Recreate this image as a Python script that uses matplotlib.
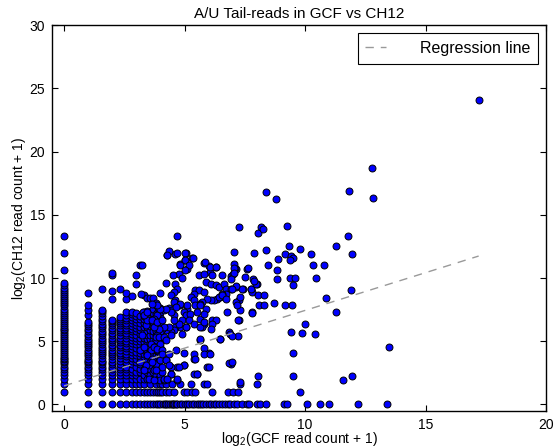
import numpy as np
import matplotlib.pyplot as plt

plt.rcParams['font.family'] = ['Liberation Sans', 'DejaVu Sans']
plt.rcParams['mathtext.default'] = 'regular'

# raw read counts for the low-count columns (GCF count -> list of CH12 counts)
gcf0_ch12 = [1, 2, 3, 4, 5, 6, 7, 8, 9, 10, 11, 12, 13, 15, 17, 19, 21, 24, 27, 30,
             33, 37, 41, 46, 51, 57, 63, 70, 78, 87, 97, 108, 120, 135, 150, 170, 190,
             215, 240, 270, 300, 340, 380, 430, 480, 540, 600, 680, 770, 1550, 4100, 10300]

low_gcf = [1, 2, 3, 4, 5, 6, 7, 8, 9, 10, 11, 12, 13, 14, 15]
low_ch12 = [
    [0, 1, 2, 3, 4, 5, 6, 7, 8, 9, 10, 11, 13, 15, 17, 19, 22, 25, 28, 32, 36, 41, 47, 54, 62, 71, 80, 90, 135, 180, 228, 445],
    [0, 1, 2, 3, 4, 5, 6, 7, 8, 9, 10, 12, 14, 16, 18, 20, 23, 26, 30, 34, 38, 43, 49, 56, 64, 72, 82, 95, 110, 130, 150, 170, 180, 550],
    [0, 1, 2, 3, 4, 5, 6, 7, 8, 9, 11, 13, 15, 17, 19, 22, 25, 29, 33, 38, 44, 50, 57, 65, 75, 85, 95, 103, 315, 511, 1180, 1350],
    [0, 1, 2, 3, 4, 5, 6, 7, 8, 10, 12, 14, 16, 19, 22, 25, 29, 33, 38, 44, 51, 58, 66, 75, 85, 95, 110, 120, 548],
    [0, 1, 2, 3, 4, 5, 6, 7, 9, 11, 13, 15, 18, 21, 24, 28, 32, 37, 43, 50, 58, 66, 76, 88, 100, 115, 135, 155, 320, 445],
    [0, 1, 2, 3, 4, 5, 6, 8, 10, 12, 14, 17, 20, 24, 28, 33, 39, 46, 54, 63, 73, 85, 100, 120, 140, 160, 390],
    [0, 1, 2, 3, 4, 5, 7, 9, 11, 14, 17, 21, 26, 31, 37, 45, 54, 65, 78, 93, 110, 130, 150, 750, 1180],
    [0, 1, 2, 3, 5, 6, 8, 10, 13, 16, 20, 25, 31, 38, 47, 58, 70, 85, 105, 125, 2050],
    [0, 1, 2, 3, 4, 6, 9, 12, 15, 19, 24, 30, 37, 46, 57, 70, 86, 105, 130, 160, 410],
    [0, 1, 3, 5, 7, 10, 14, 18, 23, 29, 36, 45, 56, 70, 88, 110, 140, 170, 340],
    [0, 1, 2, 4, 6, 9, 13, 17, 22, 28, 35, 45, 57, 72, 90, 115, 340],
    [0, 1, 3, 5, 8, 11, 15, 20, 26, 34, 44, 56, 72, 92, 120, 150, 190, 350],
    [0, 1, 2, 4, 7, 10, 14, 19, 25, 33, 43, 55, 70, 90, 115, 145, 260],
    [0, 1, 3, 6, 9, 13, 18, 24, 32, 42, 55, 72, 95, 125, 165, 210],
    [0, 1, 2, 4, 7, 11, 16, 22, 30, 40, 53, 70, 92, 120, 160, 200, 450],
]

# GCF positions (log2 scale) of genes with CH12 count 0, 1 and 2
zero_row_x = [4.09, 4.17, 4.25, 4.32, 4.39, 4.46, 4.52, 4.58, 4.64, 4.70, 4.81, 4.91, 5.00,
              5.09, 5.20, 5.29, 5.39, 5.50, 5.61, 5.70, 5.78, 5.88, 6.00, 6.11, 6.21, 6.32,
              6.43, 6.55, 6.67, 6.80, 6.90, 7.05, 7.19, 7.40, 7.60, 7.67, 8.00, 8.15, 8.36,
              9.12, 9.23, 10.09, 10.61, 10.99, 12.20, 13.40]
one_row_x = [4.07, 4.21, 4.35, 4.57, 4.97, 5.10, 5.31, 5.45, 6.15, 6.80, 7.00, 7.20, 9.78]
two_row_x = [4.07, 4.21, 4.49, 4.83, 5.25, 5.80, 5.95, 7.30, 8.00]

# remaining genes, log2(count + 1) for both libraries
spread_x = [
    4.28, 4.62, 5.04, 5.32, 5.00, 4.83, 5.11, 4.76, 4.52, 4.90, 4.62, 4.70, 4.56, 4.42, 4.21,
    5.80, 6.01, 6.29, 6.05, 6.15, 5.59, 5.80, 6.56, 6.91, 7.02, 7.12, 7.05, 5.87, 6.08, 6.29,
    6.43, 6.63, 6.70, 6.91, 6.70, 6.56, 6.49, 6.36, 6.22, 6.08, 5.94, 5.73, 5.66, 5.45, 5.59,
    5.80, 5.39, 5.25, 5.39, 5.45, 5.11, 4.97, 5.04, 4.90, 4.83, 5.04, 4.62, 4.56, 4.42, 4.21,
    4.07, 4.00, 3.87, 3.80, 3.59, 3.73, 3.87, 3.59, 3.45, 3.66, 3.52, 3.80, 4.00, 4.21, 3.38,
    3.31, 3.17, 3.17, 3.31, 3.24, 3.38, 3.28, 3.21, 3.80, 3.93, 4.14, 4.35, 4.49, 4.56, 4.83,
    4.62, 4.56, 3.87, 3.73, 3.45, 3.31, 3.45, 5.66, 6.15, 5.80, 5.73, 6.29, 6.77, 7.25, 7.32,
    6.84, 6.49, 5.66, 4.97, 5.39, 6.01, 5.94, 5.52, 4.97, 4.70, 4.42, 4.28, 4.00, 4.07, 3.73,
    3.52, 6.91, 7.32,
    3.80, 3.93, 4.14, 4.42, 4.21, 4.00, 3.73, 3.87, 4.07, 4.35, 4.63, 4.90, 5.04, 4.76, 4.56,
    4.35, 4.14, 3.93, 3.73, 3.66, 3.87, 4.07,
    3.63, 4.07, 4.21, 4.35, 4.07, 3.80, 4.42, 4.14, 3.73, 4.70, 4.97, 5.38, 4.76,
    5.38, 5.66, 5.80, 5.80, 6.05, 6.00, 5.42,
    5.66, 5.87, 5.80, 5.52, 5.24, 5.11, 4.83, 4.63, 4.42, 4.21, 4.00, 3.87, 3.66, 5.18, 5.38,
    5.66, 5.80, 6.15, 6.08,
    4.70, 7.25, 8.04, 8.18, 8.27, 8.36, 8.78, 4.35, 4.28, 4.70, 5.00, 5.00, 5.35, 4.83, 5.20,
    5.00, 3.24, 5.84, 6.04, 6.32, 7.09, 7.57, 7.63,
    7.05, 7.07, 7.05, 7.49, 7.85, 7.99, 7.44, 7.12, 7.77, 6.94, 8.46, 8.87, 8.85, 8.82, 7.88,
    8.37,
    7.80, 7.74, 7.40, 7.12, 6.98, 7.12, 7.19, 7.32, 7.95, 7.88, 8.04, 8.29, 8.08, 8.29, 8.70,
    7.80, 7.24, 7.20, 6.90, 6.95, 6.85, 6.95, 6.49, 6.42, 6.56, 6.70, 7.80, 7.20,
    8.04, 9.50, 5.52, 4.42, 4.14, 4.28, 4.70,
    9.26, 9.34, 9.15, 9.40, 9.50, 9.37, 9.78, 10.23, 10.34, 10.78, 11.30, 11.78, 11.96, 9.37,
    9.58, 9.50, 10.44, 10.88, 11.89, 9.18, 9.47, 11.30, 10.00, 9.40, 9.88, 10.40, 9.50,
    13.50, 11.58, 11.96, 12.76, 11.83, 12.83, 17.20,
]
spread_y = [
    11.79, 11.93, 11.98, 11.61, 11.40, 11.08, 10.74, 10.35, 10.21, 10.03, 9.56, 9.16, 8.90, 8.63, 9.61,
    11.19, 10.93, 10.87, 10.48, 10.21, 10.21, 10.29, 10.21, 10.14, 10.29, 10.74, 12.06, 9.69, 9.56, 9.42,
    9.29, 9.56, 9.16, 9.16, 8.77, 8.77, 8.50, 8.37, 8.24, 8.24, 8.37, 8.11, 7.98, 9.03, 9.03,
    8.90, 8.77, 8.50, 8.24, 7.84, 7.58, 7.32, 7.05, 6.66, 6.13, 6.13, 6.13, 5.87, 5.74, 5.87,
    6.00, 5.74, 5.47, 5.08, 4.82, 4.55, 4.29, 4.29, 3.89, 3.63, 3.10, 3.24, 3.50, 3.50, 3.10,
    2.71, 3.37, 4.29, 4.55, 5.47, 6.26, 7.32, 8.77, 7.84, 7.58, 7.50, 7.66, 7.45, 7.05, 7.84,
    8.24, 8.11, 7.05, 6.79, 6.66, 7.05, 7.32, 6.79, 6.66, 6.40, 6.13, 6.66, 7.32, 8.24, 7.45,
    5.74, 5.21, 5.08, 4.08, 3.63, 4.08, 2.97, 2.45, 3.10, 2.97, 2.97, 2.05, 1.92, 2.58, 2.71,
    2.05, 3.24, 1.79,
    5.35, 5.35, 5.35, 5.48, 5.10, 4.82, 4.56, 4.42, 4.29, 4.03, 4.29, 5.61, 6.13, 6.40, 6.66,
    6.13, 6.13, 6.00, 6.13, 6.66, 6.53, 6.66,
    3.37, 4.03, 3.50, 3.10, 2.98, 2.71, 2.45, 1.92, 1.92, 1.92, 3.10, 2.45, 2.98,
    4.03, 5.14, 4.45, 4.03, 4.03, 2.98, 3.60,
    7.84, 7.58, 7.19, 7.32, 7.19, 7.84, 7.97, 7.71, 7.32, 7.58, 7.58, 7.84, 7.97, 6.66, 6.40,
    6.13, 6.53, 6.40, 6.00,
    13.30, 14.00, 13.55, 14.00, 13.90, 16.80, 16.27, 12.13, 11.80, 12.00, 12.00, 11.45, 11.60, 11.06, 11.00,
    10.66, 11.06, 11.26, 10.87, 10.87, 10.80, 10.74, 10.82,
    11.08, 10.80, 10.40, 10.08, 9.95, 9.56, 9.16, 9.29, 9.16, 9.95, 11.00, 11.50, 10.60, 9.95, 11.95,
    12.20,
    8.90, 9.10, 9.16, 9.34, 9.16, 8.10, 7.84, 8.50, 9.56, 9.80, 8.63, 8.63, 7.84, 7.84, 8.06,
    7.30, 6.71, 5.42, 5.60, 5.40, 3.30, 3.35, 5.21, 8.50, 8.63, 8.37, 7.20, 6.70,
    2.26, 2.26, 2.45, 2.45, 2.05, 2.05, 2.05,
    14.08, 12.56, 11.87, 11.71, 11.58, 11.40, 12.30, 11.93, 11.06, 11.06, 12.56, 13.30, 11.90, 10.03,
    10.03, 9.48, 10.03, 8.40, 9.08, 7.87, 7.87, 7.30, 6.37, 5.77, 5.63, 5.55, 4.05,
    4.55, 1.97, 2.29, 18.70, 16.90, 16.35, 24.10,
]

# fitted regression line
reg_slope = 0.597
reg_intercept = 1.47

x = [0.0] * len(gcf0_ch12)
y = list(np.log2(np.array(gcf0_ch12) + 1))
for g, counts in zip(low_gcf, low_ch12):
    x += [np.log2(g + 1)] * len(counts)
    y += list(np.log2(np.array(counts) + 1))
for row_val, row_x in [(0, zero_row_x), (1, one_row_x), (2, two_row_x)]:
    x += row_x
    y += [np.log2(row_val + 1)] * len(row_x)
x += spread_x
y += spread_y
x = np.array(x)
y = np.array(y)

fig = plt.figure(figsize=(5.59, 4.48), dpi=100)
ax = fig.add_axes([0.093, 0.083, 0.884, 0.861])

ax.scatter(x, y, s=25, c='#0000ff', edgecolors='black', linewidths=0.7, zorder=2)
xl = np.array([0, x.max()])
ax.plot(xl, reg_intercept + reg_slope * xl, color='#999999', linestyle=(0, (6, 5)),
        linewidth=1.0, label='Regression line', zorder=3)

ax.set_xlim(-0.5, 20)
ax.set_ylim(-0.5, 30)
ax.set_xticks([0, 5, 10, 15, 20])
ax.set_yticks([0, 5, 10, 15, 20, 25, 30])
ax.tick_params(direction='in', top=True, right=True, length=4, labelsize=10, pad=5)
for sp in ax.spines.values():
    sp.set_linewidth(1.0)

ax.set_title('A/U Tail-reads in GCF vs CH12', fontsize=11, pad=5)
ax.set_xlabel('log$_2$(GCF read count + 1)', fontsize=10, labelpad=-1)
ax.set_ylabel('log$_2$(CH12 read count + 1)', fontsize=10, labelpad=1)

leg = ax.legend(loc='upper right', fontsize=11.5, fancybox=False, framealpha=1,
                edgecolor='black', handlelength=1.3, handletextpad=2.1,
                borderpad=0.5, borderaxespad=0.5)
leg.get_frame().set_linewidth(0.8)

fig.savefig('out.png', dpi=100, facecolor='white')
